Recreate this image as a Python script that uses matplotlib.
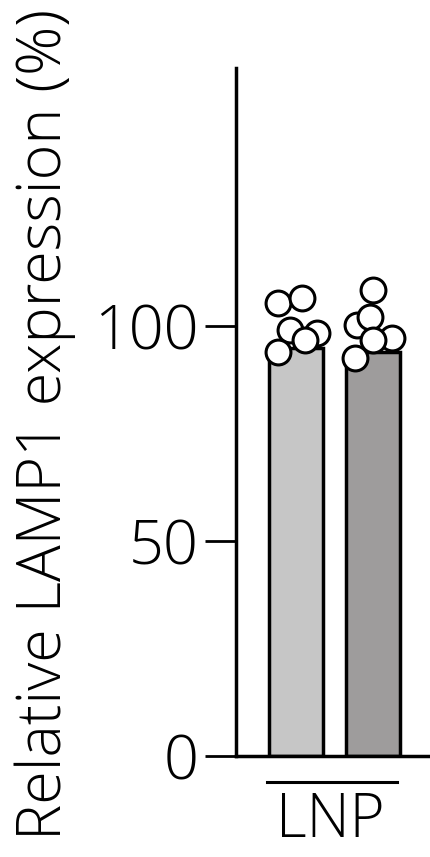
import matplotlib.pyplot as plt
import numpy as np

plt.rcParams['font.family'] = ['Open Sans', 'DejaVu Sans']
plt.rcParams['font.weight'] = 'light'

# data
groups = ["LNP-1", "LNP-2"]
bar_means = [95, 94]
bar_colors = ["#c6c6c6", "#9e9c9c"]
pts_1 = [105.3, 106.5, 99.0, 98.4, 96.7, 94.0]
pts_2 = [108.4, 100.2, 102.0, 97.2, 92.6, 96.7]
jit_1 = [-0.23, 0.08, -0.08, 0.27, 0.12, -0.23]
jit_2 = [0.0, -0.21, -0.04, 0.25, -0.23, 0.0]
yticks = [0, 50, 100]

W, H = 431, 857
fig = plt.figure(figsize=(W / 100, H / 100), dpi=100)
ax = fig.add_axes([236 / W, (H - 756) / H, (W - 236) / W, (756 - 68) / H])

x = np.arange(len(groups))
ax.bar(x, bar_means, width=0.7, color=bar_colors, edgecolor="black", linewidth=2.5, zorder=2)
for xi, pts, jit in [(0, pts_1, jit_1), (1, pts_2, jit_2)]:
    ax.scatter(xi + np.array(jit), pts, s=320, facecolor="white", edgecolor="black",
               linewidth=2.2, zorder=3)

ax.set_xlim(-0.78, 1.75)
ax.set_ylim(0, 160)
ax.set_yticks(yticks)
ax.set_xticks([])
ax.tick_params(axis="y", length=22, width=2, pad=5, labelsize=44)
for s in ["top", "right"]:
    ax.spines[s].set_visible(False)
ax.spines["left"].set_linewidth(2.5)
ax.spines["bottom"].set_linewidth(2.5)

fig.text(45 / W, 1 - 424 / H, "Relative LAMP1 expression (%)", rotation=90,
         ha="center", va="center", fontsize=44)

# group line and label under the bars
ax.plot([-0.38, 1.31], [-6.0, -6.0], color="black", linewidth=2.2, clip_on=False)
ax.text(0.45, -15.1, "LNP", ha="center", va="center", fontsize=43)

fig.savefig("out.png", dpi=100)
